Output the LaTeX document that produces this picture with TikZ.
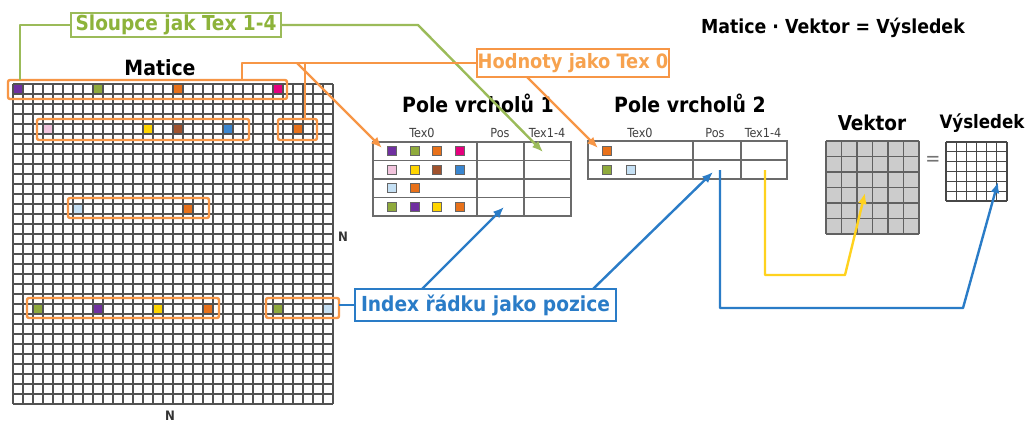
\documentclass[tikz,border=0pt]{standalone}
\usepackage{fontspec}
\setmainfont{DejaVu Sans Condensed}
\usetikzlibrary{arrows.meta}

% palette
\definecolor{cPurple}{HTML}{7030A0}
\definecolor{cOlive}{HTML}{8FAA3C}
\definecolor{cOrange}{HTML}{E8711A}
\definecolor{cMagenta}{HTML}{E5007D}
\definecolor{cPink}{HTML}{F2C4DD}
\definecolor{cYellow}{HTML}{FFD500}
\definecolor{cBrown}{HTML}{A0522D}
\definecolor{cBlue}{HTML}{3A86D0}
\definecolor{cLightBlue}{HTML}{C5E0F4}
\definecolor{cGreenLine}{HTML}{9BBB59}
\definecolor{cGreenText}{HTML}{8DB33A}
\definecolor{cOrangeLine}{HTML}{F79646}
\definecolor{cOrangeText}{HTML}{F7A24E}
\definecolor{cBlueLine}{HTML}{2A7CC7}
\definecolor{cYellowLine}{HTML}{FFD21E}

\pgfdeclarelayer{front}
\pgfsetlayers{main,front}

% one coloured cell of the big matrix: column, row, colour
\newcommand\mcell[3]{\fill[#3] ({13+#1*10+1},{84+#2*10+1}) rectangle +(8,8);}
% one coloured square inside a vertex table: centre x, centre y, colour
\newcommand\tsq[3]{\filldraw[fill=#3,draw=black!60,line width=0.6pt] ({#1-4.5},{#2-4.5}) rectangle +(9,9);}

\begin{document}
\begin{tikzpicture}[x=1pt,y=-1pt,
  gl/.style={draw=black!68,line width=1.25pt},
  hl/.style={draw=cOrangeLine,line width=2.4pt,rounded corners=2pt,inner sep=0pt,outer sep=0pt,anchor=north west},
  lbl/.style={draw,line width=1.4pt,fill=white,inner sep=0pt,outer sep=0pt},
  ttl/.style={font=\fontsize{21}{23}\selectfont\bfseries,inner sep=0pt},
  hdr/.style={font=\fontsize{12.5}{14}\selectfont,text=black!75,inner sep=0pt},
  tbl/.style={draw=black!58,line width=1.4pt,inner sep=0pt,outer sep=0pt,anchor=north west},
  conn/.style={line width=2.4pt,line join=round},
  arr/.style={-{Latex[length=11pt,width=9pt]}}]

\useasboundingbox (0,0) rectangle (1025,423);
\fill[white] (0,0) rectangle (1025,423);

% ---------------- big N x N matrix ----------------
\foreach \i in {0,...,32} {
  \draw[gl] ({13+\i*10},84) -- ({13+\i*10},404);
  \draw[gl] (13,{84+\i*10}) -- (333,{84+\i*10});
}
% row 0
\mcell{0}{0}{cPurple}\mcell{8}{0}{cOlive}\mcell{16}{0}{cOrange}\mcell{26}{0}{cMagenta}
% row 4
\mcell{3}{4}{cPink}\mcell{13}{4}{cYellow}\mcell{16}{4}{cBrown}\mcell{21}{4}{cBlue}\mcell{28}{4}{cOrange}
% row 12
\mcell{6}{12}{cLightBlue}\mcell{17}{12}{cOrange}
% row 22
\mcell{2}{22}{cOlive}\mcell{8}{22}{cPurple}\mcell{14}{22}{cYellow}\mcell{19}{22}{cOrange}
\mcell{26}{22}{cOlive}\mcell{31}{22}{cLightBlue}

% highlighted rows
\node[hl,minimum width=279pt,minimum height=19pt] (r0) at (8,80) {};
\node[hl,minimum width=212pt,minimum height=21pt] (r4a) at (37,119) {};
\node[hl,minimum width=39pt,minimum height=21pt] (r4b) at (278,119) {};
\node[hl,minimum width=141pt,minimum height=20pt] (r12) at (68,198) {};
\node[hl,minimum width=192pt,minimum height=20pt] (r22a) at (27,298) {};
\node[hl,minimum width=73pt,minimum height=20pt] (r22b) at (266,298) {};

\node[ttl] (matice) at (160,68) {Matice};
\node[font=\fontsize{13}{14}\selectfont\bfseries,text=black!80,inner sep=0pt] (nright) at (343,237) {N};
\node[font=\fontsize{13}{14}\selectfont\bfseries,text=black!80,inner sep=0pt] (nbottom) at (170,416) {N};

% ---------------- vertex table 1 ----------------
\node[ttl] (t1) at (478,103) {Pole vrcholů 1};
\node[hdr] (h1a) at (422,133) {Tex0};
\node[hdr] (h1b) at (500,133) {Pos};
\node[hdr] (h1c) at (547,133) {Tex1-4};
\node[tbl,minimum width=198pt,minimum height=74pt] (pv1) at (373,142) {};
\draw[draw=black!58,line width=1.4pt] (477,142) -- (477,216) (524,142) -- (524,216)
  (373,160.5) -- (571,160.5) (373,179) -- (571,179) (373,197.5) -- (571,197.5);
\tsq{392}{151}{cPurple}\tsq{414.5}{151}{cOlive}\tsq{437}{151}{cOrange}\tsq{459.5}{151}{cMagenta}
\tsq{392}{170}{cPink}\tsq{414.5}{170}{cYellow}\tsq{437}{170}{cBrown}\tsq{459.5}{170}{cBlue}
\tsq{392}{188}{cLightBlue}\tsq{414.5}{188}{cOrange}
\tsq{392}{207}{cOlive}\tsq{414.5}{207}{cPurple}\tsq{437}{207}{cYellow}\tsq{459.5}{207}{cOrange}

% ---------------- vertex table 2 ----------------
\node[ttl] (t2) at (690,103) {Pole vrcholů 2};
\node[hdr] (h2a) at (640,133) {Tex0};
\node[hdr] (h2b) at (715,133) {Pos};
\node[hdr] (h2c) at (763,133) {Tex1-4};
\node[tbl,minimum width=199pt,minimum height=38pt] (pv2) at (588,141) {};
\draw[draw=black!58,line width=1.4pt] (693,141) -- (693,179) (741,141) -- (741,179)
  (588,160) -- (787,160);
\tsq{607}{151}{cOrange}
\tsq{607}{170}{cOlive}\tsq{631}{170}{cLightBlue}

% ---------------- vector texture and result ----------------
\node[font=\fontsize{20.5}{22}\selectfont\bfseries,inner sep=0pt] (tv) at (872,123) {Vektor};
\fill[black!20] (826,141) rectangle (919,234);
\foreach \i in {0,...,6} {
  \draw[black!62,line width=1.3pt] ({826+\i*15.5},141) -- ({826+\i*15.5},234);
  \draw[black!62,line width=1.3pt] (826,{141+\i*15.5}) -- (919,{141+\i*15.5});
}
\node[font=\fontsize{20}{22}\selectfont,text=black!55,inner sep=0pt] (eq) at (933,161) {=};
\node[font=\fontsize{18.5}{20}\selectfont\bfseries,inner sep=0pt] (tr) at (982,123) {Výsledek};
\foreach \i in {0,...,6} {
  \draw[black!72,line width=1.1pt] ({946+\i*10.17},142) -- ({946+\i*10.17},201);
  \draw[black!72,line width=1.1pt] (946,{142+\i*9.83}) -- (1007,{142+\i*9.83});
}

\node[font=\fontsize{19.3}{21}\selectfont\bfseries,inner sep=0pt] (eqn) at (833,28) {Matice · Vektor = Výsledek};

% ---------------- labels (kept above the connectors) ----------------
\begin{pgfonlayer}{front}
\node[lbl,draw=cGreenLine,text=cGreenText,font=\fontsize{20.6}{21}\selectfont\bfseries,
      minimum width=210pt,minimum height=24pt] (lg) at (176,25) {Sloupce jak Tex 1-4};
\node[lbl,draw=cOrangeLine,text=cOrangeText,font=\fontsize{19.8}{21}\selectfont\bfseries,
      minimum width=192pt,minimum height=28pt] (lo) at (573,63) {Hodnoty jako Tex 0};
\node[lbl,draw=cBlueLine,text=cBlueLine,font=\fontsize{20.7}{21}\selectfont\bfseries,
      minimum width=261pt,minimum height=32pt] (lb) at (485.5,305) {Index řádku jako pozice};
\end{pgfonlayer}

% end points inside the tables and textures
\coordinate (gtip) at (543,152);
\coordinate (o1tip) at (382,148);
\coordinate (o2tip) at (598,148);
\coordinate (b1tip) at (504,207);
\coordinate (b2tip) at (713,172);
\coordinate (posstart) at (720,170);
\coordinate (texstart) at (765,170);
\coordinate (vtip) at (865,193);
\coordinate (rtip) at (998,182);

% ---------------- connectors ----------------
% green: columns as Tex 1-4
\draw[conn,cGreenLine] (lg.west) -| (20,80);
\draw[conn,cGreenLine,arr] (lg.east) -- (418,25) -- (gtip);
% orange: values as Tex 0
\draw[conn,cOrangeLine] (lo.west) -| (242,80);
\draw[conn,cOrangeLine] (305,63) -- (305,119);
\draw[conn,cOrangeLine,arr] (297,63) -- (o1tip);
\draw[conn,cOrangeLine,arr] (527,77) -- (o2tip);
% blue: row index as position
\draw[conn,cBlueLine] (lb.west) -- (lb.west -| r22b.east);
\draw[conn,cBlueLine,arr] (422,289) -- (b1tip);
\draw[conn,cBlueLine,arr] (593,289) -- (b2tip);
\draw[conn,cBlueLine,arr] (posstart) |- (963,308) -- (rtip);
% yellow: texture lookup
\draw[conn,cYellowLine,arr] (texstart) |- (845,275) -- (vtip);
\end{tikzpicture}
\end{document}
